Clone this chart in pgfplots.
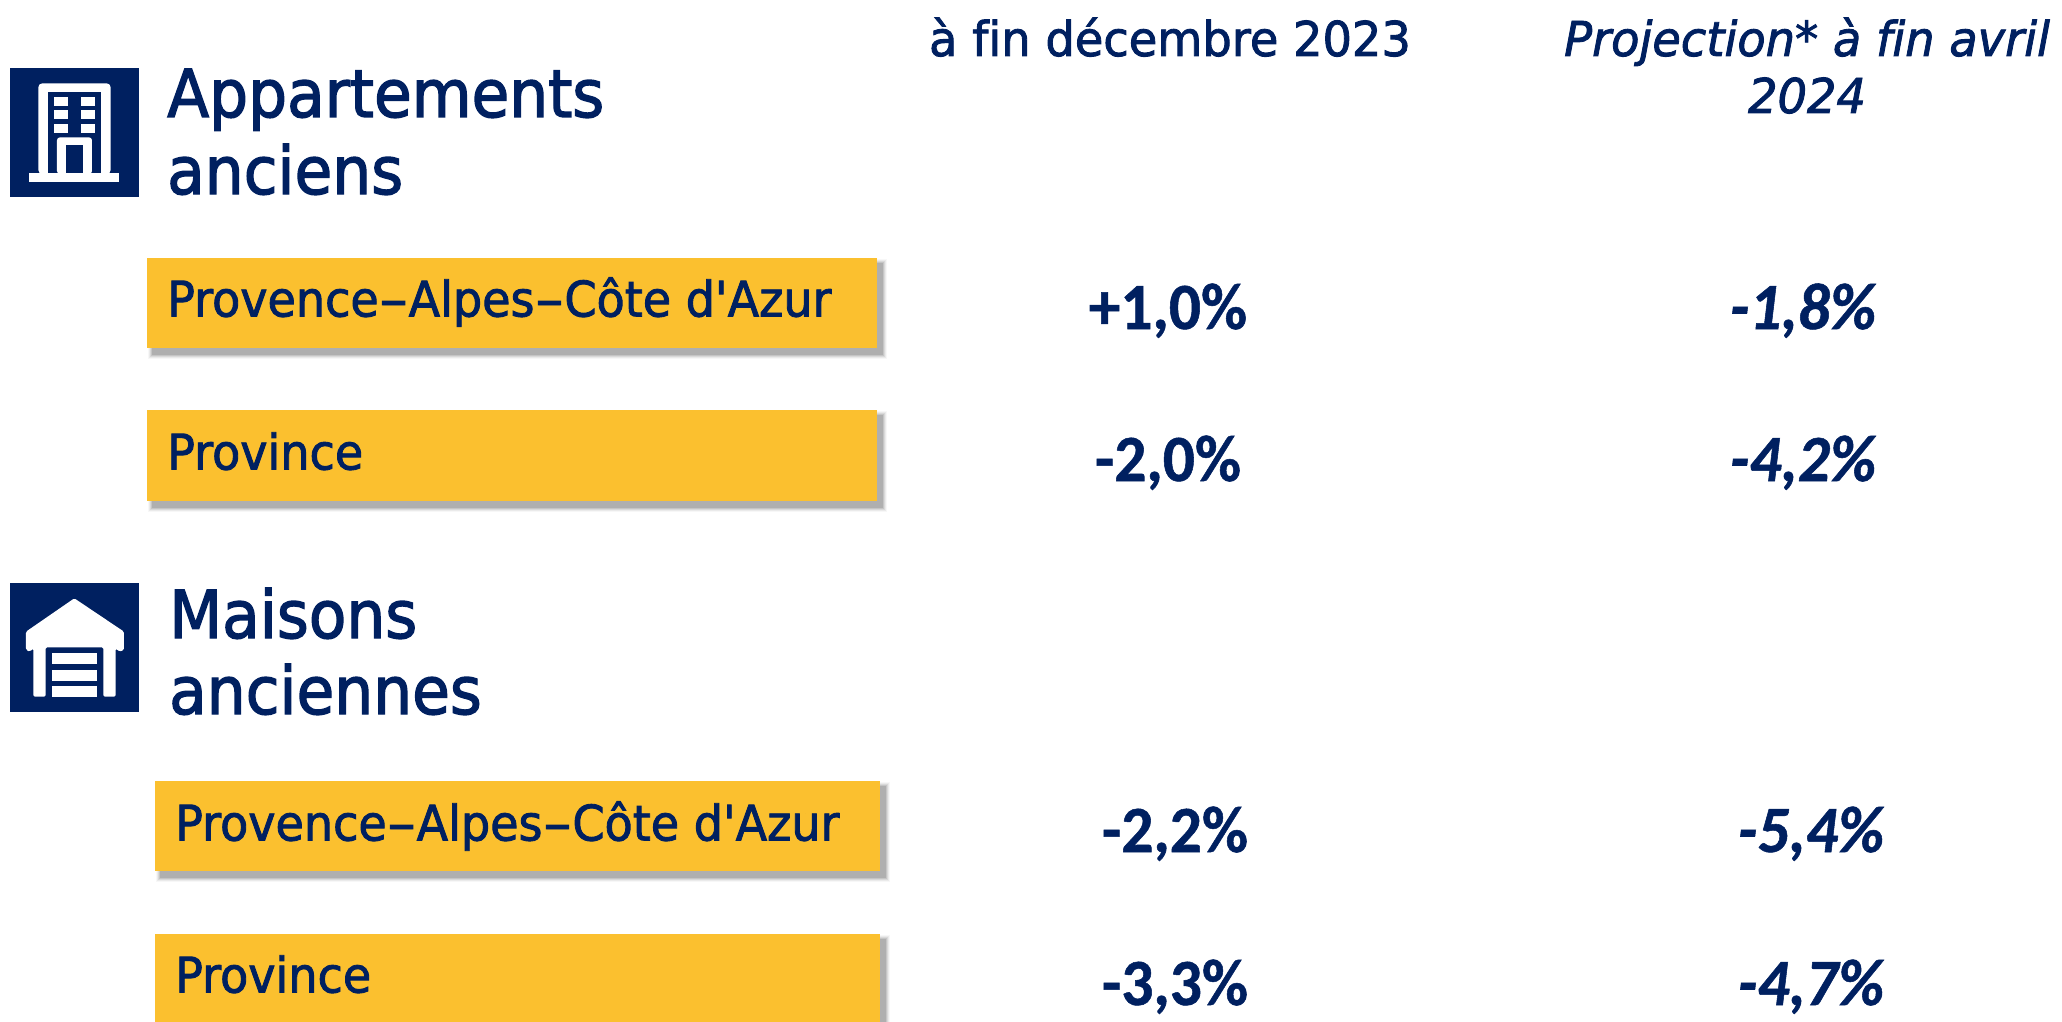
\documentclass[border=0pt]{standalone}
\usepackage{pgfplots}
\pgfplotsset{compat=1.18}
\usepackage{pgfplotstable}
\usepackage{fontspec}
\setmainfont{DejaVu Sans}
\newfontfamily\headfont[FakeStretch=.93,FakeBold=2,Ligatures=NoCommon]{DejaVu Sans}
\newfontfamily\labfont[FakeStretch=.94,FakeBold=1.8,Ligatures=NoCommon]{DejaVu Sans}
\newfontfamily\topfont[FakeStretch=.965,FakeBold=1.8,Ligatures=NoCommon]{DejaVu Sans}
\newfontfamily\valfont[FakeStretch=.96,FakeBold=.8]{Carlito}
\definecolor{navy}{HTML}{002060}
\definecolor{barcol}{HTML}{FBC02F}
\newcommand{\hy}{\scalebox{1.8}[1]{-}}

% value labels: x, baseline y (pixels from the top), text
\pgfplotstableread[col sep=comma]{
x,y,label
1168,329,{+1,0\%}
1168,481,{-2,0\%}
1175,852,{-2,2\%}
1175,1005,{-3,3\%}
}\datadec
\pgfplotstableread[col sep=comma]{
x,y,label
1803,329,{-1,8\%}
1803,481,{-4,2\%}
1811,852,{-5,4\%}
1811,1005,{-4,7\%}
}\dataproj
\pgfplotstableread[col sep=comma]{
x,y,label
167,316.5,{Provence\hy Alpes\hy Côte d'Azur}
167,469.5,{Province}
175,840.5,{Provence\hy Alpes\hy Côte d'Azur}
175,992.5,{Province}
}\datacat

% yellow box with a soft shadow
\newcommand{\yellowbar}[4]{%
  \fill[black,opacity=.03] (axis cs:#1+1,#2+1) rectangle (axis cs:#3+10,#4+11);
  \fill[black,opacity=.05] (axis cs:#1+2,#2+2) rectangle (axis cs:#3+9,#4+10);
  \fill[black,opacity=.07] (axis cs:#1+3,#2+3) rectangle (axis cs:#3+8,#4+9);
  \fill[black,opacity=.09] (axis cs:#1+4,#2+4) rectangle (axis cs:#3+7,#4+8);
  \fill[black,opacity=.11] (axis cs:#1+5,#2+5) rectangle (axis cs:#3+6,#4+7);
  \addplot[fill=barcol,draw=none,forget plot] coordinates {(#1,#2) (#3,#2) (#3,#4) (#1,#4)} -- cycle;
}

\begin{document}
\begin{tikzpicture}
\path[use as bounding box,clip] (0,0) rectangle (2062pt,1022pt);
\begin{axis}[
  at={(0,0)},anchor=south west,
  scale only axis,width=2062pt,height=1022pt,
  xmin=0,xmax=2062,ymin=0,ymax=1022,y dir=reverse,
  hide axis,clip=false,
  point meta=explicit symbolic,
  every node near coord/.append style={text=navy},
]
\yellowbar{147}{258}{877}{348}
\yellowbar{147}{410}{877}{501}
\yellowbar{155}{781}{880}{871}
\yellowbar{155}{934}{880}{1030}

\addplot[only marks,mark=none,nodes near coords,
  nodes near coords style={anchor=base west,inner sep=0pt,font=\fontsize{49}{49}\labfont}]
  table[x=x,y=y,meta=label] {\datacat};
\addplot[only marks,mark=none,nodes near coords,
  nodes near coords style={anchor=base,inner sep=0pt,font=\fontsize{66}{66}\valfont\bfseries}]
  table[x=x,y=y,meta=label] {\datadec};
\addplot[only marks,mark=none,nodes near coords,
  nodes near coords style={anchor=base,inner sep=0pt,font=\fontsize{66}{66}\valfont\bfseries\itshape}]
  table[x=x,y=y,meta=label] {\dataproj};

% headings
\node[anchor=base west,inner sep=0pt,text=navy,font=\fontsize{66}{66}\headfont] at (axis cs:167,117) {Appartements};
\node[anchor=base west,inner sep=0pt,text=navy,font=\fontsize{66}{66}\headfont] at (axis cs:167,194) {anciens};
\node[anchor=base west,inner sep=0pt,text=navy,font=\fontsize{66}{66}\headfont] at (axis cs:169,638) {Maisons};
\node[anchor=base west,inner sep=0pt,text=navy,font=\fontsize{66}{66}\headfont] at (axis cs:169,714) {anciennes};
\node[anchor=base,inner sep=0pt,text=navy,font=\fontsize{48}{48}\topfont] at (axis cs:1170,56) {à fin décembre 2023};
\node[anchor=base,inner sep=0pt,text=navy,font=\fontsize{48}{48}\topfont\itshape] at (axis cs:1807,56) {Projection* à fin avril};
\node[anchor=base,inner sep=0pt,text=navy,font=\fontsize{48}{48}\topfont\itshape] at (axis cs:1807,113) {2024};
\end{axis}

% building icon
\begin{scope}[shift={(0pt,972pt)},x=0.3333pt,y=-0.3333pt]
  \fill[navy] (30,53) rectangle (416,440);
  \fill[white,rounded corners=4pt] (115,372) -- (115,100) -- (332,100) -- (332,372) -- cycle;
  \fill[navy] (143,126) rectangle (304,368);
  \fill[white] (88,368) rectangle (358,395);
  \foreach \yy in {140,181,221}{
    \fill[white] (163,\yy) rectangle ++(40,27);
    \fill[white] (244,\yy) rectangle ++(40,27);
  }
  \fill[white,rounded corners=3pt] (171,372) -- (171,262) -- (276,262) -- (276,372) -- cycle;
  \fill[navy] (197,286) rectangle (250,368);
\end{scope}

% garage icon
\begin{scope}[shift={(0pt,452pt)},x=0.3333pt,y=-0.3333pt]
  \fill[navy] (30,38) rectangle (416,425);
  \fill[white,rounded corners=1.5pt] (223,85) -- (372,185) -- (372,240) -- (358,245) -- (347,235) -- (347,380)
    -- (310,380) -- (310,232) -- (137,232) -- (137,380) -- (100,380) -- (100,235) -- (90,245) -- (78,240) -- (78,185) -- cycle;
  \foreach \ya/\yb in {250/283,300/332,349/380}{
    \fill[white] (155,\ya) rectangle (292,\yb);
  }
\end{scope}
\end{tikzpicture}
\end{document}
